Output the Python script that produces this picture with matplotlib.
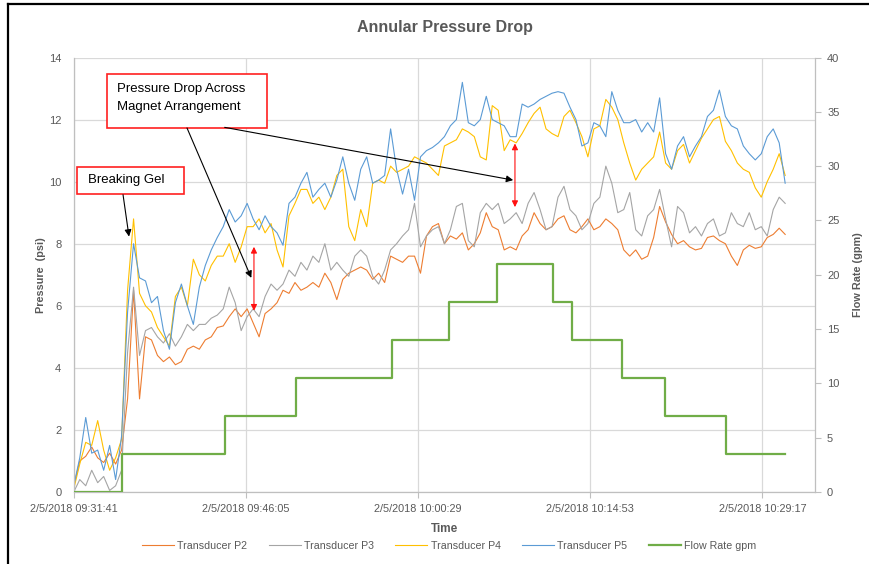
import numpy as np
import matplotlib
matplotlib.use('Agg')
import matplotlib.pyplot as plt
from matplotlib.patches import Rectangle
from matplotlib.lines import Line2D

# ---------------- data (minutes after 2/5/2018 09:31:41) ----------------
time_min = np.arange(0, 60, 0.5)

p2 = [0.2, 1.0, 1.15, 1.45, 1.1, 0.95, 1.25, 0.9, 1.35, 3.0,
      6.5, 3.0, 5.0, 4.9, 4.4, 4.2, 4.35, 4.1, 4.2, 4.6,
      4.7, 4.6, 4.9, 5.0, 5.3, 5.35, 5.65, 5.9, 5.65, 5.9,
      5.45, 5.0, 5.75, 5.9, 6.1, 6.5, 6.4, 6.75, 6.5, 6.6,
      6.75, 6.6, 7.05, 6.75, 6.2, 6.85, 7.05, 7.15, 7.25, 7.15,
      6.85, 7.05, 6.75, 7.6, 7.5, 7.4, 7.6, 7.6, 7.05, 8.25,
      8.55, 8.65, 8.0, 8.25, 8.15, 8.35, 7.8, 8.0, 8.35, 9.0,
      8.55, 8.45, 7.8, 7.9, 7.8, 8.25, 8.45, 9.0, 8.65, 8.45,
      8.55, 8.8, 8.9, 8.45, 8.35, 8.55, 8.8, 8.45, 8.55, 8.8,
      8.65, 8.45, 7.8, 7.6, 7.8, 7.5, 7.6, 8.2, 9.2, 8.7,
      8.3, 8.0, 8.1, 7.9, 7.8, 7.85, 8.2, 8.25, 8.1, 8.0,
      7.6, 7.3, 7.8, 7.95, 7.85, 7.9, 8.2, 8.3, 8.5, 8.3]

p3 = [0.0, 0.4, 0.2, 0.7, 0.3, 0.5, 0.05, 0.2, 0.7, 4.5,
      6.6, 4.4, 5.2, 5.3, 5.0, 4.8, 5.1, 4.7, 5.0, 5.4,
      5.2, 5.4, 5.4, 5.6, 5.7, 5.9, 6.6, 6.1, 5.2, 5.65,
      5.9, 5.65, 6.3, 6.7, 6.5, 6.7, 7.15, 6.95, 7.4, 7.15,
      7.6, 7.4, 8.0, 7.15, 7.4, 7.15, 6.95, 7.6, 7.8, 7.6,
      6.95, 6.7, 7.15, 7.8, 8.0, 8.25, 8.45, 9.3, 7.9, 8.25,
      8.45, 8.55, 8.0, 8.45, 9.2, 9.3, 8.1, 7.9, 9.0, 9.3,
      9.1, 9.3, 8.65, 8.8, 9.0, 8.65, 9.3, 9.65, 9.1, 8.45,
      8.55, 9.5, 9.85, 9.1, 8.9, 8.45, 8.65, 9.3, 9.5, 10.5,
      9.95, 9.0, 9.1, 9.65, 8.45, 8.25, 8.9, 9.1, 9.75, 8.8,
      7.9, 9.2, 9.0, 8.35, 8.55, 8.25, 8.65, 8.8, 8.25, 8.35,
      9.0, 8.65, 8.55, 9.0, 8.45, 8.55, 8.25, 9.1, 9.5, 9.3]

p4 = [0.1, 0.9, 1.6, 1.5, 2.3, 1.35, 0.7, 1.1, 1.7, 6.5,
      8.8, 6.4, 6.0, 5.8, 5.3, 5.0, 4.7, 6.3, 6.6, 6.0,
      7.5, 7.0, 6.8, 7.3, 7.6, 7.6, 8.0, 7.4, 7.9, 8.55,
      8.55, 8.8, 8.35, 8.65, 7.8, 7.25, 8.9, 9.3, 9.75, 9.75,
      9.3, 9.5, 9.1, 9.5, 10.2, 10.4, 8.55, 8.1, 9.1, 8.55,
      9.95, 10.05, 9.95, 10.5, 10.3, 10.4, 10.5, 10.8, 10.7, 10.6,
      10.4, 10.2, 11.15, 11.25, 11.35, 11.7, 11.6, 11.45, 10.8, 10.7,
      12.45, 12.3, 11.0, 11.35, 11.25, 11.55, 11.9, 12.2, 12.4, 11.7,
      11.55, 11.45, 12.1, 12.3, 11.9, 11.45, 10.8, 11.7, 11.8, 12.65,
      12.4, 12.0, 11.25, 10.6, 10.05, 10.4, 10.6, 10.8, 11.6, 10.6,
      10.4, 11.0, 11.2, 10.6, 11.0, 11.4, 11.7, 12.0, 12.1, 11.3,
      11.0, 10.6, 10.4, 10.3, 9.8, 9.5, 10.0, 10.4, 10.9, 10.2]

p5 = [0.2, 1.1, 2.4, 1.25, 1.35, 0.7, 1.5, 0.4, 1.8, 5.8,
      8.0, 6.9, 6.8, 6.1, 6.3, 5.2, 4.6, 6.1, 6.7, 6.0,
      5.4, 6.6, 7.3, 7.8, 8.2, 8.55, 9.1, 8.7, 8.9, 9.3,
      8.8, 8.45, 8.9, 8.55, 8.35, 7.95, 9.3, 9.5, 9.95, 10.3,
      9.5, 9.75, 9.95, 9.5, 10.05, 10.8, 9.95, 9.4, 10.4, 10.8,
      9.95, 10.05, 10.2, 11.7, 10.4, 9.6, 10.4, 9.4, 10.8, 11.0,
      11.1, 11.25, 11.45, 11.8, 12.0, 13.2, 11.9, 11.8, 12.0, 12.75,
      12.0, 11.9, 11.8, 11.45, 11.45, 12.5, 12.4, 12.5, 12.65, 12.75,
      12.85, 12.9, 12.85, 12.4, 12.0, 11.15, 11.25, 11.9, 11.8, 11.45,
      12.9, 12.3, 11.9, 11.9, 12.0, 11.6, 11.9, 11.6, 12.7, 10.9,
      10.4, 11.15, 11.45, 10.8, 11.15, 11.45, 12.1, 12.3, 12.95, 12.1,
      11.8, 11.7, 11.15, 10.9, 10.7, 10.9, 11.45, 11.7, 11.25, 9.95]

flow_t = [0, 4.04, 12.62, 18.61, 26.59, 31.42, 35.37, 40.05, 41.68, 45.85, 49.47, 54.53, 59.5]
flow_v = [0, 3.5, 7, 10.5, 14, 17.5, 21, 17.5, 14, 10.5, 7, 3.5, 3.5]

series_names = ['Transducer P2', 'Transducer P3', 'Transducer P4', 'Transducer P5']
flow_name = 'Flow Rate gpm'
xtick_pos = [0, 14.4, 28.8, 43.2, 57.6]
xtick_labels = ['2/5/2018 09:31:41', '2/5/2018 09:46:05', '2/5/2018 10:00:29',
                '2/5/2018 10:14:53', '2/5/2018 10:29:17']
left_ticks = [0, 2, 4, 6, 8, 10, 12, 14]
right_ticks = [0, 5, 10, 15, 20, 25, 30, 35, 40]

# ---------------- styling ----------------
plt.rcParams['font.family'] = ['Liberation Sans', 'DejaVu Sans']
txt = '#595959'
gridc = '#d9d9d9'
axc = '#bfbfbf'
colors = ['#ED7D31', '#A5A5A5', '#FFC000', '#5B9BD5']

fig = plt.figure(figsize=(8.7, 5.64), dpi=100)
ax = fig.add_axes([0.0848, 0.1277, 0.8515, 0.7703])

handles = []
for vals, c, name in zip([p2, p3, p4, p5], colors, series_names):
    h, = ax.plot(time_min, vals, color=c, lw=0.8, label=name)
    handles.append(h)

ax.set_xlim(0, 61.96)
ax.set_ylim(0, 14)
ax.set_yticks(left_ticks)
ax.set_xticks(xtick_pos)
ax.set_xticklabels(xtick_labels)
ax.grid(True, color=gridc, lw=0.9)
ax.set_axisbelow(True)
for s in ['top', 'right']:
    ax.spines[s].set_visible(False)
for s in ['left', 'bottom']:
    ax.spines[s].set_color(axc)
    ax.spines[s].set_linewidth(0.9)
ax.tick_params(axis='y', length=0, pad=9, labelsize=8, labelcolor=txt)
ax.tick_params(axis='x', length=4, color=axc, pad=5, labelsize=7.8, labelcolor=txt)
ax.set_ylabel('Pressure  (psi)', fontsize=7.8, fontweight='bold', color=txt, labelpad=2)
ax.set_xlabel('Time', fontsize=8.5, fontweight='bold', color=txt, labelpad=6)

ax2 = ax.twinx()
hf, = ax2.plot(flow_t, flow_v, drawstyle='steps-post', color='#70AD47', lw=1.6, label=flow_name)
handles.append(hf)
ax2.set_ylim(0, 40)
ax2.set_yticks(right_ticks)
for s in ['top', 'left', 'bottom']:
    ax2.spines[s].set_visible(False)
ax2.spines['right'].set_color(axc)
ax2.spines['right'].set_linewidth(0.9)
ax2.tick_params(axis='y', length=4, color=axc, pad=5, labelsize=8, labelcolor=txt)
ax2.set_ylabel('Flow Rate (gpm)', fontsize=7.8, fontweight='bold', color=txt, labelpad=10)

# ---------------- annotations ----------------
ax.add_patch(Rectangle((0.27, 9.61), 8.93, 0.87, facecolor='white', edgecolor='#ff2020',
                       lw=1.2, zorder=5, clip_on=False))
ax.text(1.2, 10.05, 'Breaking Gel', fontsize=9.5, color='black', va='center', ha='left', zorder=6)
ax.annotate('', xy=(4.62, 8.23), xytext=(4.12, 9.58),
            arrowprops=dict(arrowstyle='-|>', color='black', lw=0.8, mutation_scale=10,
                            shrinkA=0, shrinkB=0), zorder=6)

ax.add_patch(Rectangle((2.75, 11.73), 13.38, 1.74, facecolor='white', edgecolor='#ff2020',
                       lw=1.2, zorder=5, clip_on=False))
ax.text(3.6, 12.97, 'Pressure Drop Across', fontsize=9.5, color='black', va='center', ha='left', zorder=6)
ax.text(3.6, 12.39, 'Magnet Arrangement', fontsize=9.5, color='black', va='center', ha='left', zorder=6)
ax.annotate('', xy=(14.85, 6.9), xytext=(9.47, 11.73),
            arrowprops=dict(arrowstyle='-|>', color='black', lw=0.8, mutation_scale=10,
                            shrinkA=0, shrinkB=0), zorder=6)
ax.annotate('', xy=(36.75, 10.05), xytext=(12.62, 11.75),
            arrowprops=dict(arrowstyle='-|>', color='black', lw=0.8, mutation_scale=10,
                            shrinkA=0, shrinkB=0), zorder=6)

for xa, ytop, ybot in [(15.07, 7.9, 5.84), (36.9, 11.23, 9.18)]:
    ax.annotate('', xy=(xa, ytop), xytext=(xa, ybot),
                arrowprops=dict(arrowstyle='<|-|>', color='#ff1010', lw=0.8, mutation_scale=9,
                                shrinkA=0, shrinkB=0), zorder=6)

# ---------------- title, legend, frame ----------------
fig.text(0.511, 0.952, 'Annular Pressure Drop', ha='center', va='center', fontsize=11.5,
         fontweight='bold', color=txt)
fig.legend(handles, series_names + [flow_name], loc='center', bbox_to_anchor=(0.516, 0.032),
           ncol=5, frameon=False, fontsize=7.7, handlelength=3.0, columnspacing=2.0,
           handletextpad=0.3, labelcolor=txt)

fig.add_artist(Line2D([8.5 / 870, 8.5 / 870], [0, 1 - 3.5 / 564], color='black', lw=1.6,
                      transform=fig.transFigure))
fig.add_artist(Line2D([8.5 / 870, 1], [1 - 3.5 / 564, 1 - 3.5 / 564], color='black', lw=1.6,
                      transform=fig.transFigure))

fig.savefig('out.png', dpi=100)
